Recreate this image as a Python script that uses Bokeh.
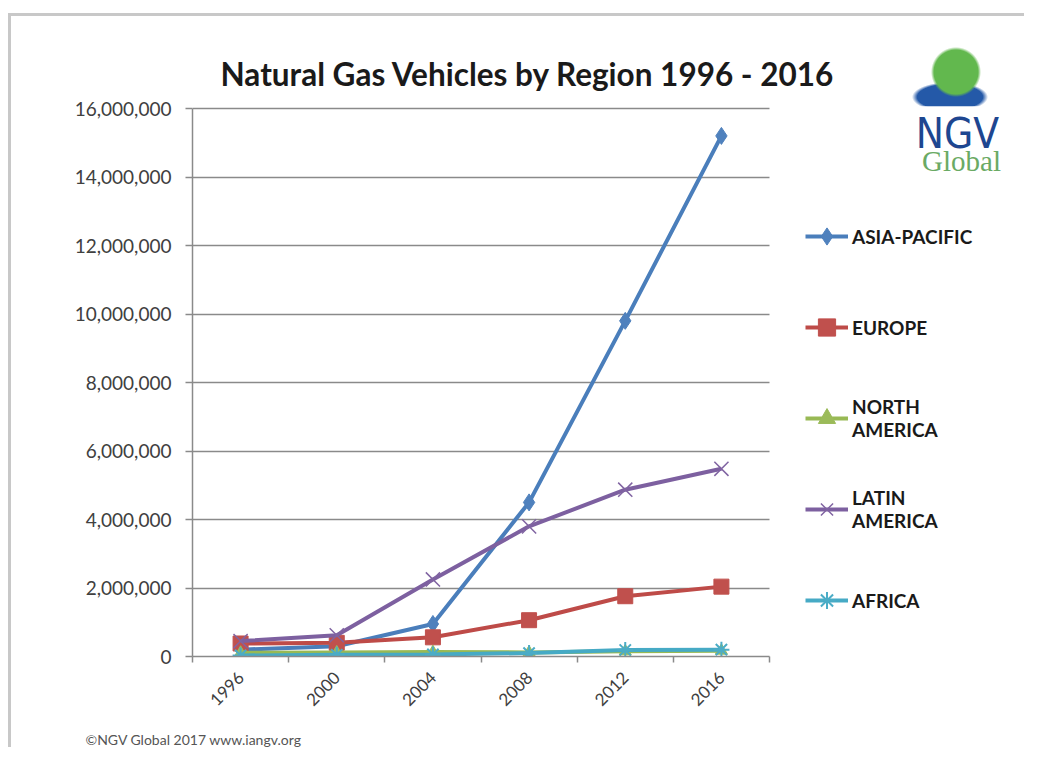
from bokeh.plotting import figure
from bokeh.models import (ColumnDataSource, Range1d, FixedTicker, NumeralTickFormatter,
                          Legend, LegendItem, Label, BoxAnnotation)
from bokeh.embed import file_html
from bokeh.resources import INLINE
from math import pi

# ---- data ----
years = [1996, 2000, 2004, 2008, 2012, 2016]
asia_pacific = [200000, 300000, 950000, 4500000, 9800000, 15200000]
europe = [380000, 400000, 560000, 1060000, 1760000, 2040000]
north_america = [110000, 120000, 130000, 120000, 150000, 170000]
latin_america = [450000, 620000, 2250000, 3800000, 4870000, 5480000]
africa = [30000, 50000, 60000, 100000, 190000, 200000]
y_ticks = [0, 2000000, 4000000, 6000000, 8000000, 10000000, 12000000, 14000000, 16000000]
year_bounds = [1994, 1998, 2002, 2006, 2010, 2014, 2018]

series_names = ["ASIA-PACIFIC", "EUROPE", "NORTH\nAMERICA", "LATIN\nAMERICA", "AFRICA"]
series_values = [asia_pacific, europe, north_america, latin_america, africa]

FONT = "Lato"

# ---- layout: the plot area (1994..2018, 0..16M) sits at x 192..769, y 108..656;
# the frame is extended right and up so legend, title and logo live inside it
W, H = 1024, 747
LEFT, BOTTOM = 192, 656
px_per_year = (769 - LEFT) / (year_bounds[-1] - year_bounds[0])
px_per_unit = (BOTTOM - 108) / y_ticks[-1]
x_end = year_bounds[0] + (W - LEFT) / px_per_year
y_end = BOTTOM / px_per_unit

p = figure(width=W, height=H, output_backend="svg", toolbar_location=None,
           x_range=Range1d(year_bounds[0], x_end), y_range=Range1d(0, y_end),
           min_border_left=LEFT, min_border_right=0, min_border_top=0,
           min_border_bottom=H - BOTTOM)
p.title.visible = False
p.outline_line_color = None
p.background_fill_alpha = 0
p.border_fill_alpha = 0
# slide frame and NGV globe emblem painted behind the transparent canvas
p.styles = {
    "background-color": "white",
    "background-image": ", ".join([
        "radial-gradient(circle 25px at 956px 72px, #62b84e 88%, rgba(255,255,255,0) 100%)",
        "radial-gradient(ellipse 38px 15px at 950px 97px, #2459a8 86%, rgba(255,255,255,0) 100%)",
        "linear-gradient(#c8c8c8, #c8c8c8)",
        "linear-gradient(#c8c8c8, #c8c8c8)",
    ]),
    "background-size": "100% 100%, 100% 100%, 1040px 3px, 3px 800px",
    "background-position": "0 0, 0 0, 8px 13px, 8px 13px",
    "background-repeat": "no-repeat",
}

# axes
p.xgrid.visible = False
p.ygrid.grid_line_color = "#8a8a8a"
p.ygrid.grid_line_width = 1.5
p.ygrid.ticker = FixedTicker(ticks=y_ticks)
# keep the horizontal grid inside the plot area only
p.add_layout(BoxAnnotation(left=year_bounds[-1], top=y_ticks[-1] * 1.004, fill_color="white",
                           fill_alpha=1, line_color=None, level="underlay"))

p.yaxis.ticker = FixedTicker(ticks=y_ticks)
p.yaxis.bounds = (y_ticks[0], y_ticks[-1])
p.yaxis.formatter = NumeralTickFormatter(format="0,0")
p.yaxis.axis_line_color = "#8a8a8a"
p.yaxis.axis_line_width = 1.5
p.yaxis.major_tick_line_color = "#8a8a8a"
p.yaxis.major_tick_line_width = 1.5
p.yaxis.major_tick_out = 7
p.yaxis.major_tick_in = 0
p.yaxis.minor_tick_line_color = None
p.yaxis.major_label_standoff = 14
p.yaxis.major_label_text_font = FONT
p.yaxis.major_label_text_font_size = "19px"
p.yaxis.major_label_text_color = "#404040"

p.xaxis.ticker = FixedTicker(ticks=years, minor_ticks=year_bounds)
p.xaxis.bounds = (year_bounds[0], year_bounds[-1])
p.xaxis.axis_line_color = "#8a8a8a"
p.xaxis.axis_line_width = 1.5
p.xaxis.major_tick_out = 0
p.xaxis.major_tick_in = 0
p.xaxis.minor_tick_line_color = "#8a8a8a"
p.xaxis.minor_tick_line_width = 1.5
p.xaxis.minor_tick_out = 6
p.xaxis.minor_tick_in = 0
p.xaxis.major_label_orientation = pi / 4
p.xaxis.major_label_standoff = 12
p.xaxis.major_label_text_font = FONT
p.xaxis.major_label_text_font_size = "17px"
p.xaxis.major_label_text_color = "#404040"

styles = [
    dict(line="#4A7EBB", fill="#4F81BD", marker="diamond", size=17, lw=1),
    dict(line="#BE4B48", fill="#C0504D", marker="square", size=15, lw=1),
    dict(line="#98B954", fill="#9BBB59", marker="triangle", size=12, lw=1),
    dict(line="#7D60A0", fill="#8064A2", marker="x", size=20, lw=1.5),
    dict(line="#46AAC5", fill="#4BACC6", marker="asterisk", size=16, lw=2),
]

items = []
for name, vals, st in zip(series_names, series_values, styles):
    src = ColumnDataSource(dict(x=years, y=vals))
    lr = p.line("x", "y", source=src, line_color=st["line"], line_width=4)
    sr = p.scatter("x", "y", source=src, marker=st["marker"], size=st["size"],
                   fill_color=st["fill"], line_color=st["fill"], line_width=st["lw"])
    items.append(LegendItem(label=name, renderers=[lr, sr]))

legend = Legend(items=items, location=(613, 30), padding=0, margin=0,
                border_line_color=None, background_fill_alpha=0,
                glyph_width=43, glyph_height=52, label_height=52, spacing=39,
                label_standoff=4, label_text_font=FONT, label_text_font_style="bold",
                label_text_font_size="19px", label_text_color="#1a1a1a")
p.add_layout(legend, "center")

# title and logo words
p.add_layout(Label(x=28, y=583, x_units="screen", y_units="screen",
                   text="Natural Gas Vehicles by Region 1996 - 2016",
                   text_font=FONT, text_font_style="bold", text_font_size="31.5px",
                   text_color="#1a1a1a", text_align="left", text_baseline="middle"))
p.add_layout(Label(x=765, y=523, x_units="screen", y_units="screen", text="NGV",
                   text_font="DejaVu Sans Condensed", text_font_size="42px",
                   text_color="#1e4690", text_align="center", text_baseline="middle"))
p.add_layout(Label(x=769, y=496, x_units="screen", y_units="screen", text="Global",
                   text_font="Liberation Serif", text_font_size="29px", text_color="#6aaa64",
                   text_align="center", text_baseline="middle"))

# footer (below the axis)
p.add_layout(Label(x=-107, y=-8, x_units="screen", y_units="screen",
                   text="\u00a9NGV Global 2017  www.iangv.org",
                   text_font=FONT, text_font_size="14px", text_color="#555555",
                   text_align="left", text_baseline="middle"), "below")

open("out.html", "w").write(file_html(p, INLINE))
